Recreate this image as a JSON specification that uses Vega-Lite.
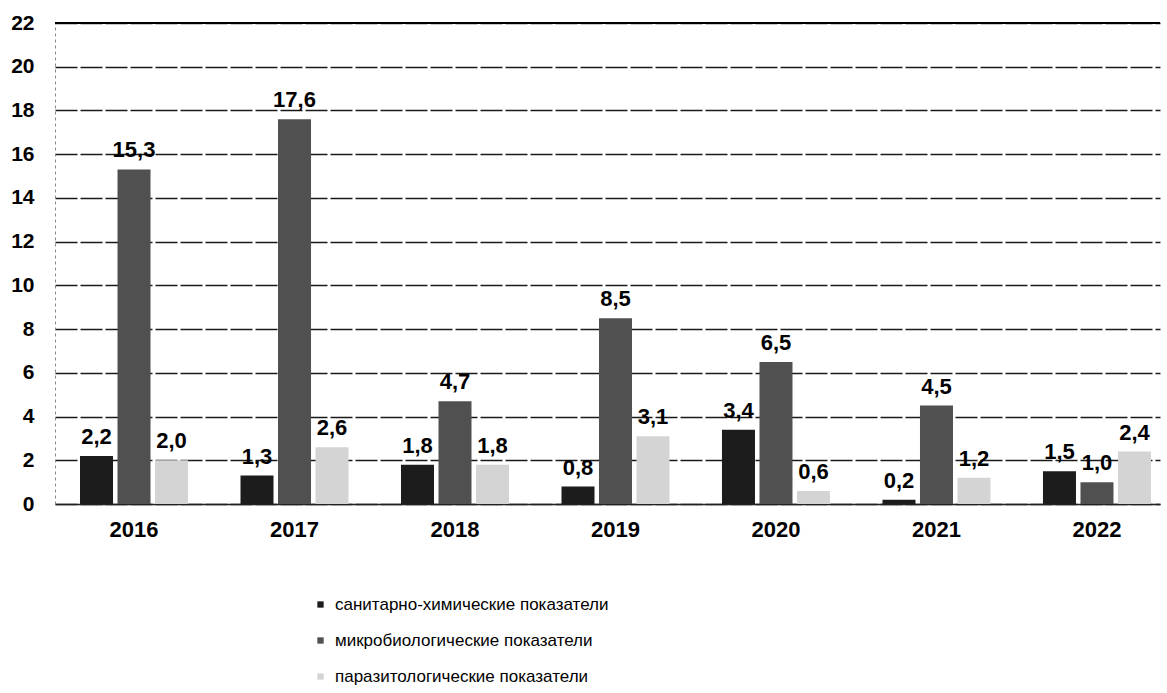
{
  "$schema": "https://vega.github.io/schema/vega-lite/v6.json",
  "autosize": "none",
  "width": 1105,
  "height": 481,
  "padding": {"left": 55, "top": 23, "right": 7, "bottom": 189},
  "background": "white",
  "config": {
    "locale": {"number": {"decimal": ",", "thousands": " ", "grouping": [3], "currency": ["", " ₽"]}},
    "view": {"stroke": null},
    "font": "Liberation Sans"
  },
  "data": {
    "values": [
      {"year": "2016", "cat": "санитарно-химические показатели", "v": 2.2},
      {"year": "2016", "cat": "микробиологические показатели", "v": 15.3},
      {"year": "2016", "cat": "паразитологические показатели", "v": 2.0},
      {"year": "2017", "cat": "санитарно-химические показатели", "v": 1.3},
      {"year": "2017", "cat": "микробиологические показатели", "v": 17.6},
      {"year": "2017", "cat": "паразитологические показатели", "v": 2.6},
      {"year": "2018", "cat": "санитарно-химические показатели", "v": 1.8},
      {"year": "2018", "cat": "микробиологические показатели", "v": 4.7},
      {"year": "2018", "cat": "паразитологические показатели", "v": 1.8},
      {"year": "2019", "cat": "санитарно-химические показатели", "v": 0.8},
      {"year": "2019", "cat": "микробиологические показатели", "v": 8.5},
      {"year": "2019", "cat": "паразитологические показатели", "v": 3.1},
      {"year": "2020", "cat": "санитарно-химические показатели", "v": 3.4},
      {"year": "2020", "cat": "микробиологические показатели", "v": 6.5},
      {"year": "2020", "cat": "паразитологические показатели", "v": 0.6},
      {"year": "2021", "cat": "санитарно-химические показатели", "v": 0.2},
      {"year": "2021", "cat": "микробиологические показатели", "v": 4.5},
      {"year": "2021", "cat": "паразитологические показатели", "v": 1.2},
      {"year": "2022", "cat": "санитарно-химические показатели", "v": 1.5},
      {"year": "2022", "cat": "микробиологические показатели", "v": 1.0},
      {"year": "2022", "cat": "паразитологические показатели", "v": 2.4}
    ]
  },
  "layer": [
    {
      "mark": {"type": "bar"},
      "encoding": {
        "x": {
          "field": "year", "type": "nominal",
          "scale": {"paddingInner": 0.327, "paddingOuter": 0.106, "align": 0.735},
          "axis": {"title": null, "labelAngle": 0, "labelFont": "Liberation Sans", "labelFontSize": 22, "labelFontWeight": "bold", "labelColor": "black", "labelPadding": 15, "ticks": false, "domainColor": "#222", "domainWidth": 1.5}
        },
        "xOffset": {
          "field": "cat", "type": "nominal",
          "sort": ["санитарно-химические показатели", "микробиологические показатели", "паразитологические показатели"],
          "scale": {"paddingInner": 0.12, "paddingOuter": 0}
        },
        "y": {
          "field": "v", "type": "quantitative",
          "scale": {"domain": [0, 22], "nice": false},
          "axis": {"title": null, "values": [0,2,4,6,8,10,12,14,16,18,20,22], "labelFont": "Liberation Sans", "labelFontSize": 21, "labelFontWeight": "bold", "labelColor": "black", "labelPadding": 21, "ticks": false, "domainColor": "#888", "domainDash": [3,3], "domainWidth": 1, "grid": true, "gridColor": "#1a1a1a", "gridWidth": 1.3, "gridDash": [22, 3]}
        },
        "color": {
          "field": "cat", "type": "nominal",
          "scale": {"domain": ["санитарно-химические показатели", "микробиологические показатели", "паразитологические показатели"], "range": ["#1c1c1c", "#505050", "#d4d4d4"]},
          "legend": {"title": null, "orient": "none", "legendX": 257, "legendY": 573, "direction": "vertical", "symbolType": "square", "symbolSize": 40, "symbolStrokeWidth": 0, "labelFont": "Liberation Sans", "labelFontSize": 17, "labelColor": "black", "labelOffset": 6, "labelLimit": 0, "rowPadding": 18}
        }
      }
    },
    {
      "mark": {"type": "text", "baseline": "alphabetic", "dy": -12, "font": "Liberation Sans", "fontSize": 22, "fontWeight": "bold", "color": "black"},
      "encoding": {
        "x": {"field": "year", "type": "nominal"},
        "xOffset": {
          "field": "cat", "type": "nominal",
          "sort": ["санитарно-химические показатели", "микробиологические показатели", "паразитологические показатели"]
        },
        "y": {"field": "v", "type": "quantitative"},
        "text": {"field": "v", "type": "quantitative", "format": ".1f"}
      }
    },
    {
      "mark": {"type": "rule", "color": "black", "strokeWidth": 2},
      "encoding": {"y": {"datum": 22}}
    }
  ]
}
